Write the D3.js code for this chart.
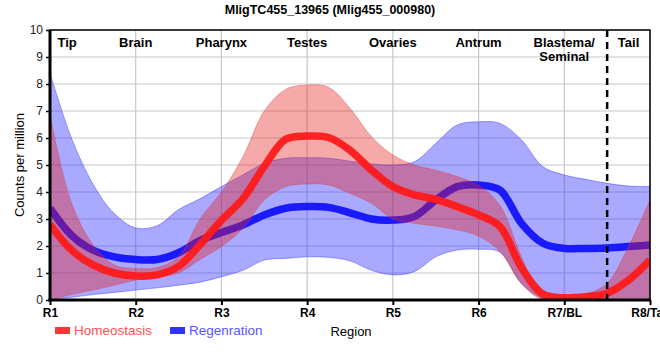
<!DOCTYPE html>
<html>
<head>
<meta charset="utf-8">
<script src="https://cdnjs.cloudflare.com/ajax/libs/d3/7.8.5/d3.min.js"></script>
<style>
  body { margin: 0; background: #fff; }
  text { font-family: "Liberation Sans", Arial, sans-serif; }
</style>
</head>
<body>
<script>
var w = 660;
var h = 360;

// region positions (quarter steps between R1 and R8)
var pos = [1, 1.25, 1.5, 1.75, 2, 2.25, 2.5, 2.75, 3, 3.25, 3.5, 3.75, 4, 4.25, 4.5,
           4.75, 5, 5.25, 5.5, 5.75, 6, 6.25, 6.5, 6.75, 7, 7.25, 7.5, 7.75, 8];

var homeoMean = [2.8, 1.85, 1.3, 1.0, 0.89, 0.93, 1.25, 2.05, 2.95, 3.75, 4.95, 5.95, 6.07, 6.02, 5.55,
                 4.81, 4.2, 3.89, 3.73, 3.46, 3.15, 2.72, 1.2, 0.22, 0.08, 0.12, 0.25, 0.74, 1.48];
var homeoHi = [6.85, 3.6, 2.05, 1.3, 1.17, 1.2, 1.6, 3.0, 4.0, 5.3, 7.0, 7.8, 7.96, 7.88, 7.1,
               6.05, 5.37, 5.0, 4.81, 4.57, 4.25, 3.5, 1.6, 0.12, 0.03, 0.2, 0.62, 1.98, 3.7];
var homeoLo = [0, 0.2, 0.37, 0.55, 0.74, 0.85, 1.0, 1.5, 1.98, 2.65, 3.7, 4.2, 4.3, 4.26, 3.95,
               3.58, 3.0, 2.84, 2.74, 2.6, 2.37, 1.8, 0.6, 0, 0, 0, 0, 0, 0];

var regenMean = [3.4, 2.4, 1.85, 1.6, 1.5, 1.5, 1.75, 2.2, 2.5, 2.78, 3.15, 3.4, 3.46, 3.43, 3.23,
                 3.0, 2.96, 3.09, 3.7, 4.2, 4.26, 4.07, 2.84, 2.1, 1.91, 1.91, 1.93, 1.98, 2.04];
var regenHi = [8.4, 6.0, 4.3, 3.2, 2.67, 2.75, 3.35, 3.75, 4.2, 4.63, 5.06, 5.25, 5.27, 5.25, 5.14,
               5.04, 5.0, 5.12, 5.8, 6.48, 6.6, 6.54, 5.93, 4.94, 4.63, 4.47, 4.32, 4.22, 4.2];
var regenLo = [0, 0.1, 0.2, 0.28, 0.37, 0.45, 0.55, 0.66, 0.86, 1.1, 1.48, 1.54, 1.6, 1.58, 1.45,
               1.1, 0.93, 1.05, 1.6, 1.85, 1.88, 1.77, 0.62, 0.06, 0, 0, 0, 0, 0];

var xTicks = [1, 2, 3, 4, 5, 6, 7, 8];
var xTickLabels = ["R1", "R2", "R3", "R4", "R5", "R6", "R7/BL", "R8/Tail"];
var yTicks = [0, 1, 2, 3, 4, 5, 6, 7, 8, 9, 10];

var regionNames = ["Tip", "Brain", "Pharynx", "Testes", "Ovaries", "Antrum", "Blastema/", "Tail"];
var regionPos = [1.2, 2, 3, 4, 5, 6, 7, 7.75];
var splitAt = 7.5;

var svg = d3.select("body").append("svg")
    .attr("width", w)
    .attr("height", h);

var x = d3.scaleLinear().domain([1, 8]).range([50, 650]);
var y = d3.scaleLinear().domain([0, 10]).range([300, 30]);

svg.append("defs").append("clipPath").attr("id", "plot")
  .append("rect").attr("x", 50).attr("y", 30).attr("width", 600).attr("height", 270);

// grid
svg.append("g").selectAll("line").data(yTicks).enter().append("line")
    .attr("x1", 50).attr("x2", 650)
    .attr("y1", function(d){ return y(d); })
    .attr("y2", function(d){ return y(d); })
    .attr("stroke", "#c8c8c8").attr("stroke-width", 1.2);
svg.append("g").selectAll("line").data(xTicks).enter().append("line")
    .attr("x1", function(d){ return x(d); })
    .attr("x2", function(d){ return x(d); })
    .attr("y1", 30).attr("y2", 300)
    .attr("stroke", "#c8c8c8").attr("stroke-width", 1.2);

var curve = d3.curveCatmullRom.alpha(0.5);

var band = function(lo, hi) {
  return d3.area()
    .x(function(d, i){ return x(pos[i]); })
    .y0(function(d, i){ return y(lo[i]); })
    .y1(function(d, i){ return y(hi[i]); })
    .curve(curve)(pos);
};
var line = function(vals) {
  return d3.line()
    .x(function(d, i){ return x(pos[i]); })
    .y(function(d){ return y(d); })
    .curve(curve)(vals);
};

var plot = svg.append("g").attr("clip-path", "url(#plot)");

plot.append("path").attr("d", band(regenLo, regenHi))
    .attr("fill", "rgba(40,40,255,0.4)")
    .attr("stroke", "rgba(60,60,255,0.6)").attr("stroke-width", 0.8);
plot.append("path").attr("d", line(regenMean))
    .attr("fill", "none").attr("stroke", "#1a1aff").attr("stroke-width", 7.5);
plot.append("path").attr("d", band(homeoLo, homeoHi))
    .attr("fill", "rgba(230,30,30,0.38)")
    .attr("stroke", "rgba(220,60,60,0.5)").attr("stroke-width", 0.8);
plot.append("path").attr("d", line(homeoMean))
    .attr("fill", "none").attr("stroke", "#ff1a1a").attr("stroke-width", 7.5)
    .attr("stroke-opacity", 0.95);

// dashed separator
svg.append("line")
    .attr("x1", x(splitAt)).attr("x2", x(splitAt))
    .attr("y1", 30).attr("y2", 300)
    .attr("stroke", "#000").attr("stroke-width", 2.5)
    .attr("stroke-dasharray", "7,5");

// frame
svg.append("rect").attr("x", 50).attr("y", 30).attr("width", 600).attr("height", 270)
    .attr("fill", "none").attr("stroke", "#000").attr("stroke-width", 1.5);
svg.append("line").attr("x1", 50).attr("x2", 50).attr("y1", 30).attr("y2", 301.5)
    .attr("stroke", "#000").attr("stroke-width", 3);
svg.append("line").attr("x1", 48.5).attr("x2", 651).attr("y1", 300).attr("y2", 300)
    .attr("stroke", "#000").attr("stroke-width", 3);

// axes
var yAxis = svg.append("g").attr("transform", "translate(50,0)")
    .call(d3.axisLeft(y).tickValues(yTicks).tickSize(4).tickPadding(3));
yAxis.select(".domain").remove();
yAxis.selectAll("line").attr("stroke-width", 1.5);
yAxis.selectAll("text").attr("font-size", 12).attr("fill", "#222")
    .attr("font-family", "Liberation Sans, Arial, sans-serif");

var xAxis = svg.append("g").attr("transform", "translate(0,300)")
    .call(d3.axisBottom(x).tickValues(xTicks).tickSize(5).tickPadding(3)
      .tickFormat(function(d, i){ return xTickLabels[i]; }));
xAxis.select(".domain").remove();
xAxis.selectAll("line").attr("stroke-width", 2);
xAxis.selectAll("text").attr("font-size", 12).attr("font-weight", "bold").attr("fill", "#000")
    .attr("font-family", "Liberation Sans, Arial, sans-serif");

// region names
svg.append("g").selectAll("text").data(regionNames).enter().append("text")
    .attr("x", function(d, i){ return x(regionPos[i]); })
    .attr("y", 47)
    .attr("text-anchor", "middle")
    .attr("font-size", 13).attr("font-weight", "bold")
    .text(function(d){ return d; });
svg.append("text").attr("x", x(regionPos[6])).attr("y", 61)
    .attr("text-anchor", "middle")
    .attr("font-size", 13).attr("font-weight", "bold").text("Seminal");

// title and axis titles
svg.append("text").attr("x", 330).attr("y", 14).attr("text-anchor", "middle")
    .attr("font-size", 12.5).attr("font-weight", "bold")
    .text("MligTC455_13965 (Mlig455_000980)");
svg.append("text").attr("transform", "translate(24,165) rotate(-90)")
    .attr("text-anchor", "middle").attr("font-size", 13)
    .text("Counts per million");
svg.append("text").attr("x", 351).attr("y", 336).attr("text-anchor", "middle")
    .attr("font-size", 13).text("Region");

// legend
var legend = [["Homeostasis", "#ff3333", "#ff5050"], ["Regenration", "#3333ff", "#5555ff"]];
var lg = svg.append("g").selectAll("g").data(legend).enter().append("g")
    .attr("transform", function(d, i){ return "translate(" + (55 + i * 115) + ",0)"; });
lg.append("rect").attr("x", 0).attr("y", 327).attr("width", 15).attr("height", 7)
    .attr("fill", function(d){ return d[1]; });
lg.append("text").attr("x", 19).attr("y", 335).attr("font-size", 13.5)
    .attr("fill", function(d){ return d[2]; })
    .text(function(d){ return d[0]; });
</script>
</body>
</html>
